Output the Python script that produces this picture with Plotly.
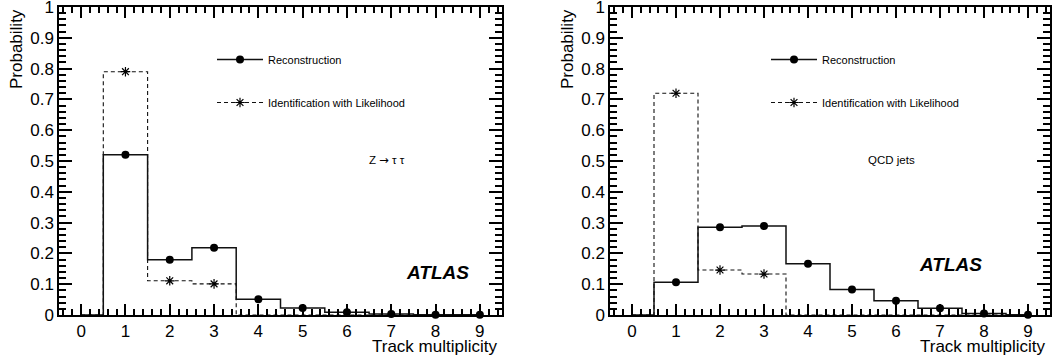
import plotly.graph_objects as go

# ---- data ----
bins = [0, 1, 2, 3, 4, 5, 6, 7, 8, 9]
z_reco = [0.0, 0.52, 0.179, 0.218, 0.051, 0.023, 0.009, 0.003, 0.001, 0.0005]
z_lh = [0.0, 0.79, 0.111, 0.101, 0.0, 0.0, 0.0, 0.0, 0.0, 0.0]
qcd_reco = [0.0, 0.106, 0.285, 0.289, 0.166, 0.083, 0.046, 0.022, 0.005, 0.001]
qcd_lh = [0.0, 0.72, 0.146, 0.133, 0.0, 0.0, 0.0, 0.0, 0.0, 0.0]
reco_marker_bins = [1, 2, 3, 4, 5, 6, 7, 8, 9]
lh_marker_bins = [1, 2, 3]
series_names = ["Reconstruction", "Identification with Likelihood"]
panel_labels = ["Z <span style='font-family:DejaVu Sans'>\u2192</span> \u03c4 \u03c4", "QCD jets"]

W, H = 1063, 359
ML, MR, MT, MB = 59, 13, 7, 44
PW, PH = W - ML - MR, H - MT - MB
FONT = "Liberation Sans, Arial, Helvetica, sans-serif"

fig = go.Figure()

def px2fx(p):
    return (p - ML) / PW

def px2fy(p):
    return (H - MB - p) / PH

panels = [
    dict(reco=z_reco, lh=z_lh, xa="x", ya="y", dom=(59, 502), legend="legend",
         label=panel_labels[0], lab_xy=(367, 160), atlas_xy=(437, 285)),
    dict(reco=qcd_reco, lh=qcd_lh, xa="x2", ya="y2", dom=(610, 1050), legend="legend2",
         label=panel_labels[1], lab_xy=(917, 160), atlas_xy=(984, 277)),
]

for p in panels:
    fig.add_trace(go.Scatter(x=bins, y=p["lh"], mode="lines", line_shape="hvh",
                             line=dict(color="#111", width=1.1, dash="4px,3px"),
                             xaxis=p["xa"], yaxis=p["ya"], showlegend=False, hoverinfo="skip"))
    fig.add_trace(go.Scatter(x=bins, y=p["reco"], mode="lines", line_shape="hvh",
                             line=dict(color="#111", width=1.5),
                             xaxis=p["xa"], yaxis=p["ya"], showlegend=False, hoverinfo="skip"))
    fig.add_trace(go.Scatter(x=reco_marker_bins, y=[p["reco"][b] for b in reco_marker_bins],
                             mode="markers", marker=dict(symbol="circle", size=8, color="black"),
                             xaxis=p["xa"], yaxis=p["ya"], showlegend=False, cliponaxis=False))
    fig.add_trace(go.Scatter(x=lh_marker_bins, y=[p["lh"][b] for b in lh_marker_bins],
                             mode="markers",
                             marker=dict(symbol="asterisk-open", size=8, color="black",
                                         line=dict(color="black", width=1.2)),
                             xaxis=p["xa"], yaxis=p["ya"], showlegend=False, cliponaxis=False))
    fig.add_trace(go.Scatter(x=[None], y=[None], mode="lines+markers", name=series_names[0],
                             line=dict(color="#111", width=1.5),
                             marker=dict(symbol="circle", size=8, color="black"),
                             xaxis=p["xa"], yaxis=p["ya"], legend=p["legend"], legendgroup="a"))
    fig.add_trace(go.Scatter(x=[None], y=[None], mode="lines+markers", name=series_names[1],
                             line=dict(color="#111", width=1.1, dash="4px,3px"),
                             marker=dict(symbol="asterisk-open", size=8, color="black",
                                         line=dict(color="black", width=1.2)),
                             xaxis=p["xa"], yaxis=p["ya"], legend=p["legend"], legendgroup="b"))

TICKC = "#000000"

def xaxis_cfg(dom, anchor):
    return dict(domain=[max(0.0, px2fx(dom[0])), min(1.0, px2fx(dom[1]))], anchor=anchor,
                range=[-0.5, 9.5], dtick=1,
                ticks="inside", ticklen=11, tickwidth=2, tickcolor=TICKC,
                showline=True, linecolor="black", linewidth=1.5, mirror="ticks",
                gridcolor="rgba(0,0,0,0)", zerolinecolor="rgba(0,0,0,0)",
                tickfont=dict(family=FONT, size=17, color="black"),
                minor=dict(ticks="inside", ticklen=6, tickwidth=1.6, tickcolor=TICKC, dtick=0.2))

def yaxis_cfg(anchor):
    return dict(domain=[0, 1], anchor=anchor,
                range=[0, 1], dtick=0.1,
                ticks="inside", ticklen=13, tickwidth=2, tickcolor=TICKC,
                showline=True, linecolor="black", linewidth=1.5, mirror="ticks",
                gridcolor="rgba(0,0,0,0)", zerolinecolor="rgba(0,0,0,0)",
                ticklabeloverflow="allow",
                tickfont=dict(family=FONT, size=17, color="black"),
                minor=dict(ticks="inside", ticklen=7, tickwidth=1.6, tickcolor=TICKC, dtick=0.02))

leg_common = dict(xanchor="left", yanchor="top", font=dict(family=FONT, size=11),
                  bgcolor="rgba(0,0,0,0)", traceorder="grouped", tracegroupgap=24, itemwidth=46)
fig.update_layout(
    template="none",
    width=W, height=H,
    margin=dict(l=ML, r=MR, t=MT, b=MB),
    paper_bgcolor="white", plot_bgcolor="white",
    font=dict(family=FONT, color="black"),
    xaxis=xaxis_cfg(panels[0]["dom"], "y"),
    yaxis=yaxis_cfg("x"),
    xaxis2=xaxis_cfg(panels[1]["dom"], "y2"),
    yaxis2=yaxis_cfg("x2"),
    legend=dict(leg_common, x=px2fx(212), y=px2fy(45)),
    legend2=dict(leg_common, x=px2fx(766), y=px2fy(45)),
    showlegend=True,
)

annotations = []
for p, cx in zip(panels, [16, 567]):
    annotations.append(dict(text=p["label"], x=px2fx(p["lab_xy"][0]), y=px2fy(p["lab_xy"][1]),
                            xref="paper", yref="paper", showarrow=False,
                            font=dict(family=FONT, size=11.5, color="black")))
    annotations.append(dict(text="<b><i>ATLAS</i></b>", x=px2fx(p["atlas_xy"][0]), y=px2fy(p["atlas_xy"][1]),
                            xref="paper", yref="paper", showarrow=False,
                            font=dict(family=FONT, size=19, color="black")))
    annotations.append(dict(text="Probability", textangle=-90, x=px2fx(cx), y=px2fy(7),
                            xref="paper", yref="paper", xanchor="center", yanchor="top",
                            showarrow=False, font=dict(family=FONT, size=17, color="black")))
    annotations.append(dict(text="Track multiplicity", x=px2fx(p["dom"][1] - 3), y=px2fy(358),
                            xref="paper", yref="paper", xanchor="right", yanchor="bottom",
                            showarrow=False, font=dict(family=FONT, size=17, color="black")))
fig.update_layout(annotations=annotations)

fig.write_html("out.html", config={"displayModeBar": False},
               post_script="document.body.style.margin='0';document.body.style.overflow='hidden';")
